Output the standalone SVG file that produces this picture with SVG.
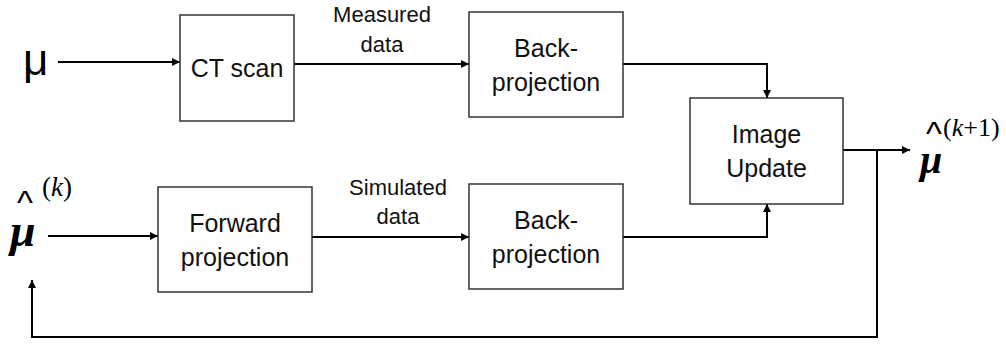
<svg xmlns="http://www.w3.org/2000/svg" width="1006" height="345" viewBox="0 0 1006 345">
<style>
.box{fill:#fff;stroke:#333;stroke-width:1.5}
.t{font-family:"Liberation Sans",Arial,sans-serif;font-size:25px;fill:#111;text-anchor:middle}
.lbl{font-family:"Liberation Sans",Arial,sans-serif;font-size:22px;fill:#111;text-anchor:middle}
.c{fill:none;stroke:#000;stroke-width:2}
.m{font-family:"Liberation Serif","Times New Roman",serif;fill:#000}
.mu{font-style:italic;font-weight:bold}
.hat{font-family:"Liberation Sans",Arial,sans-serif;font-size:34px;font-weight:normal}
</style>
<defs>
<marker id="arr" viewBox="0 0 10 10" refX="10" refY="5" markerWidth="9" markerHeight="8" markerUnits="userSpaceOnUse" orient="auto">
<path d="M0,0 L10,5 L0,10 z" fill="#000"/>
</marker>
</defs>
<rect width="1006" height="345" fill="#fff"/>
<g id="connectors">
<path class="c" d="M58,62 H180" marker-end="url(#arr)"/>
<path class="c" d="M294,64 H469" marker-end="url(#arr)"/>
<path class="c" d="M623,64 H767 V98" marker-end="url(#arr)"/>
<path class="c" d="M48,236 H158" marker-end="url(#arr)"/>
<path class="c" d="M312,237 H469" marker-end="url(#arr)"/>
<path class="c" d="M623,237 H767 V204" marker-end="url(#arr)"/>
<path class="c" d="M843,150 H910" marker-end="url(#arr)"/>
<path class="c" d="M877,150 V337 H32 V280" marker-end="url(#arr)"/>
<text class="lbl" x="382" y="22">Measured</text>
<text class="lbl" x="382" y="52">data</text>
<text class="lbl" x="398" y="195">Simulated</text>
<text class="lbl" x="398" y="224">data</text>
</g>
<g id="ct-scan">
<rect class="box" x="180" y="15" width="114" height="106"/>
<text class="t" x="237" y="77">CT scan</text>
</g>
<g id="backprojection-top">
<rect class="box" x="469" y="12" width="154" height="105"/>
<text class="t" x="546" y="57">Back-</text>
<text class="t" x="546" y="91">projection</text>
</g>
<g id="forward-projection">
<rect class="box" x="158" y="187" width="154" height="105"/>
<text class="t" x="235" y="232">Forward</text>
<text class="t" x="235" y="266">projection</text>
</g>
<g id="backprojection-bottom">
<rect class="box" x="469" y="184" width="154" height="105"/>
<text class="t" x="546" y="229">Back-</text>
<text class="t" x="546" y="263">projection</text>
</g>
<g id="image-update">
<rect class="box" x="690" y="98" width="153" height="106"/>
<text class="t" x="766.5" y="143">Image</text>
<text class="t" x="766.5" y="177">Update</text>
</g>
<g id="mu-input">
<text x="23" y="75" font-family="Liberation Sans,Arial,sans-serif" font-size="44" fill="#000">μ</text>
</g>
<g id="mu-k">
<text class="m"><tspan class="hat" x="17" y="214">^</tspan><tspan class="mu" x="10" y="246" font-size="46">μ</tspan><tspan x="42" y="196" font-size="27">(<tspan font-style="italic">k</tspan>)</tspan></text>
</g>
<g id="mu-k1">
<text class="m"><tspan class="hat" x="926" y="145">^</tspan><tspan class="mu" x="920" y="173" font-size="40">μ</tspan><tspan x="943" y="136" font-size="26">(<tspan font-style="italic">k</tspan>+1)</tspan></text>
</g>
</svg>
